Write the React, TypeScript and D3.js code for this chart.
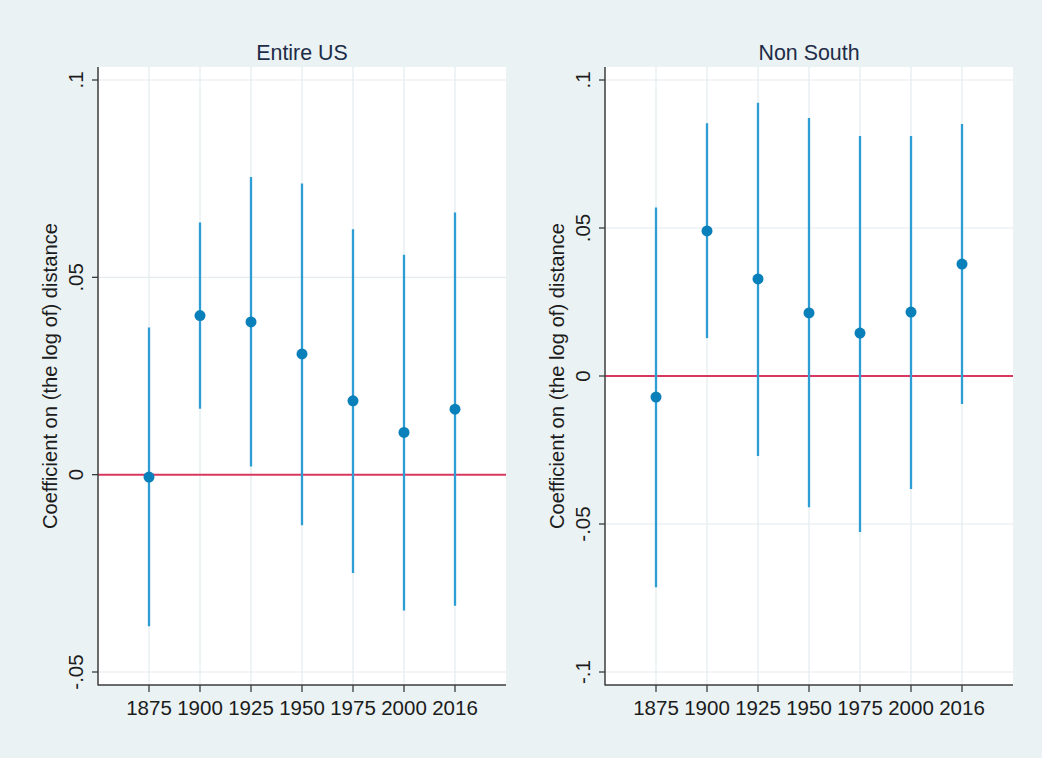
import React from "react";
import * as d3 from "d3";

const width = 1042;
const height = 758;

const years = ["1875", "1900", "1925", "1950", "1975", "2000", "2016"];

// Entire US: point estimate and 95% CI
const entireCoef = [-0.0006, 0.0403, 0.0387, 0.0306, 0.0187, 0.0107, 0.0166];
const entireLow = [-0.0384, 0.0167, 0.0021, -0.0128, -0.0249, -0.0344, -0.0332];
const entireHigh = [0.0373, 0.0639, 0.0754, 0.0738, 0.0622, 0.0557, 0.0664];
const entireTicks = [-0.05, 0, 0.05, 0.1];
const entireTickLabels = ["-.05", "0", ".05", ".1"];

// Non South
const nonSouthCoef = [-0.0071, 0.049, 0.0328, 0.0213, 0.0145, 0.0216, 0.0378];
const nonSouthLow = [-0.0714, 0.0128, -0.027, -0.0443, -0.0527, -0.0382, -0.0095];
const nonSouthHigh = [0.0569, 0.0854, 0.0923, 0.0872, 0.0811, 0.0811, 0.0851];
const nonSouthTicks = [-0.1, -0.05, 0, 0.05, 0.1];
const nonSouthTickLabels = ["-.1", "-.05", "0", ".05", ".1"];

const yTitle = "Coefficient on (the log of) distance";

const font = "'Liberation Sans', Arial, sans-serif";
const bg = "#eaf2f3";
const grid = "#e3ecef";
const ciColor = "#2d9dd3";
const dotColor = "#0a80ba";
const zeroColor = "#d8385e";
const axisColor = "#3c3c3c";

const plotTop = 67;
const plotBottom = 685;
const tickTop = 80;
const tickBottom = 672;
const plotWidth = 408;

if (typeof document !== "undefined") document.body.style.margin = "0";

type PanelProps = {
  left: number;
  title: string;
  coef: number[];
  low: number[];
  high: number[];
  ticks: number[];
  tickLabels: string[];
};

function Panel({ left, title, coef, low, high, ticks, tickLabels }: PanelProps) {
  const right = left + plotWidth;
  const x = d3.scalePoint<string>().domain(years).range([left, right]).padding(1);
  const y = d3
    .scaleLinear()
    .domain([ticks[0], ticks[ticks.length - 1]])
    .range([tickBottom, tickTop]);
  const midY = (plotTop + plotBottom) / 2;

  return (
    <g>
      <rect x={left} y={plotTop} width={plotWidth} height={plotBottom - plotTop} fill="#fff" />
      {/* grid */}
      {years.map(yr => (
        <line key={"vg" + yr} x1={x(yr)} x2={x(yr)} y1={plotTop} y2={plotBottom} stroke={grid} strokeWidth={1.2} />
      ))}
      {ticks.map(t => (
        <line key={"hg" + t} x1={left} x2={right} y1={y(t)} y2={y(t)} stroke={grid} strokeWidth={1.2} />
      ))}
      {/* zero line */}
      <line x1={left} x2={right} y1={y(0)} y2={y(0)} stroke={zeroColor} strokeWidth={2} />
      {/* CI spikes */}
      {years.map((yr, i) => (
        <line key={"ci" + yr} x1={x(yr)} x2={x(yr)} y1={y(high[i])} y2={y(low[i])} stroke={ciColor} strokeWidth={2.3} />
      ))}
      {years.map((yr, i) => (
        <circle key={"pt" + yr} cx={x(yr)} cy={y(coef[i])} r={5.5} fill={dotColor} />
      ))}
      {/* axes */}
      <line x1={left} x2={left} y1={plotTop} y2={plotBottom + 0.5} stroke={axisColor} strokeWidth={1.5} />
      <line x1={left} x2={right} y1={plotBottom} y2={plotBottom} stroke={axisColor} strokeWidth={1.5} />
      {ticks.map((t, i) => (
        <g key={"yt" + t}>
          <line x1={left - 6} x2={left} y1={y(t)} y2={y(t)} stroke={axisColor} strokeWidth={1.3} />
          <text
            transform={`translate(${left - 15},${y(t)}) rotate(-90)`}
            textAnchor="middle"
            fontFamily={font}
            fontSize={20.5}
            fill="#1c1c1c"
          >
            {tickLabels[i]}
          </text>
        </g>
      ))}
      {years.map(yr => (
        <g key={"xt" + yr}>
          <line x1={x(yr)} x2={x(yr)} y1={plotBottom} y2={plotBottom + 7} stroke={axisColor} strokeWidth={1.3} />
          <text x={x(yr)} y={plotBottom + 30} textAnchor="middle" fontFamily={font} fontSize={20.5} fill="#1c1c1c">
            {yr}
          </text>
        </g>
      ))}
      <text
        transform={`translate(${left - 41},${midY}) rotate(-90)`}
        textAnchor="middle"
        fontFamily={font}
        fontSize={20.2}
        fill="#1c1c1c"
      >
        {yTitle}
      </text>
      <text x={(left + right) / 2} y={60} textAnchor="middle" fontFamily={font} fontSize={21.4} fill="#1e2c48">
        {title}
      </text>
    </g>
  );
}

export default function App() {
  return (
    <svg width={width} height={height} style={{ display: "block" }}>
      <rect x={0} y={0} width={width} height={height} fill={bg} />
      <Panel
        left={98}
        title="Entire US"
        coef={entireCoef}
        low={entireLow}
        high={entireHigh}
        ticks={entireTicks}
        tickLabels={entireTickLabels}
      />
      <Panel
        left={605}
        title="Non South"
        coef={nonSouthCoef}
        low={nonSouthLow}
        high={nonSouthHigh}
        ticks={nonSouthTicks}
        tickLabels={nonSouthTickLabels}
      />
    </svg>
  );
}
